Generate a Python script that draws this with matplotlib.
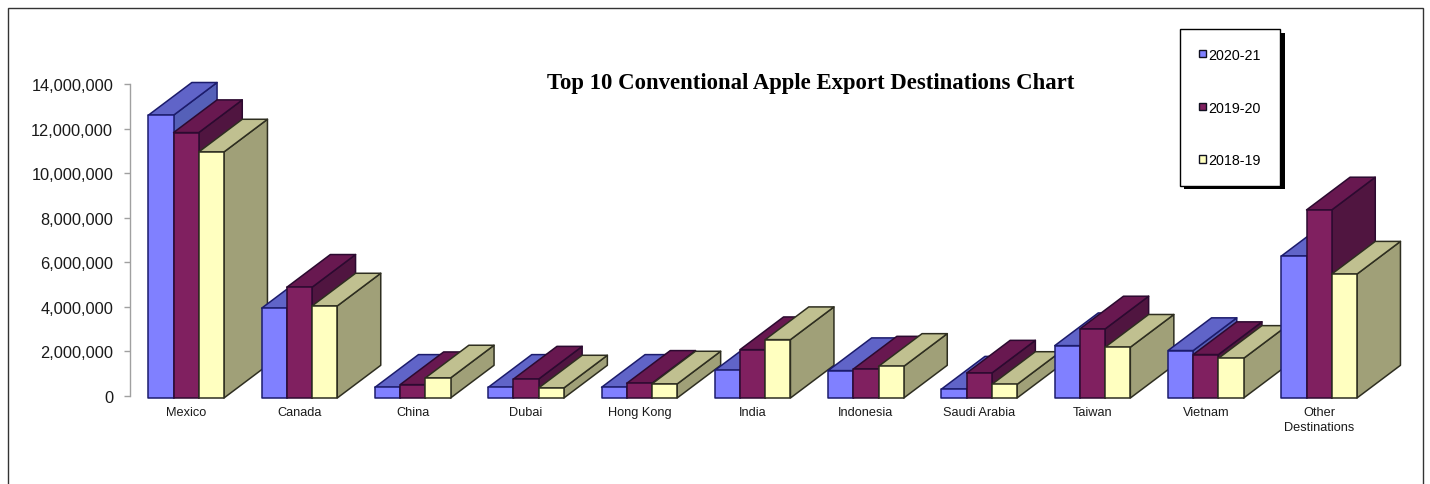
import matplotlib
matplotlib.use("Agg")
import matplotlib.pyplot as plt
from matplotlib.patches import Patch, Polygon, Rectangle
from matplotlib.ticker import FuncFormatter
from matplotlib.transforms import ScaledTranslation

# Values, in millions
categories = ["Mexico", "Canada", "China", "Dubai", "Hong Kong", "India", "Indonesia",
              "Saudi Arabia", "Taiwan", "Vietnam", "Other\nDestinations"]
y2020 = [12.69, 4.03, 0.48, 0.48, 0.48, 1.24, 1.23, 0.40, 2.35, 2.13, 6.37]
y2019 = [11.91, 4.97, 0.60, 0.85, 0.66, 2.17, 1.30, 1.12, 3.10, 1.95, 8.44]
y2018 = [11.04, 4.13, 0.90, 0.45, 0.63, 2.62, 1.42, 0.61, 2.28, 1.78, 5.56]
series_names = ["2020-21", "2019-20", "2018-19"]
yticks = [0, 2000000, 4000000, 6000000, 8000000, 10000000, 12000000, 14000000]

W, H = 1430, 485
DPI = 100
plt.rcParams["font.family"] = "Liberation Sans"

fig = plt.figure(figsize=(W / DPI, H / DPI), dpi=DPI)

# axes in pixel terms: y axis at x=129.5, zero tick at y=397, 14M tick at y=85
left, right, top, bottom = 129.5, 129.5 + 11 * 113.3, 85, 397
ax = fig.add_axes([left / W, 1 - bottom / H, (right - left) / W, (bottom - top) / H])
ax.set_xlim(-0.5, 10.5)
ax.set_ylim(0, 14000000)
ax.patch.set_visible(False)

for s in ["top", "right", "bottom"]:
    ax.spines[s].set_visible(False)
ax.spines["left"].set_color("#a0a0a0")
ax.spines["left"].set_linewidth(1.0)

ax.set_yticks(yticks)
ax.yaxis.set_major_formatter(FuncFormatter(lambda v, p: f"{int(v):,}"))
ax.tick_params(axis="y", length=4, width=1, color="#a0a0a0", labelsize=11.8, pad=7.7, labelcolor="#1a1a1a")
ax.set_xticks(range(len(categories)))
ax.set_xticklabels(categories, fontsize=9.2, color="#1a1a1a", linespacing=1.3)
ax.tick_params(axis="x", length=0, pad=7.2)

# front plane sits 2 px below the axis ticks
shift = ax.transData + ScaledTranslation(0, -2 / DPI, fig.dpi_scale_trans)

bar_w = 25.2 / 113.3
depth_x = 43.5 / 113.3
depth_y = 32.7 / 22.29 * 1e6

styles = [
    dict(front="#8080FF", top="#6064C8", side="#5560B8", edge="#1C1C6C"),
    dict(front="#802060", top="#681850", side="#501540", edge="#2C0A30"),
    dict(front="#FFFFC0", top="#C0C090", side="#A0A078", edge="#2E2E20"),
]


def draw_bar(x0, value, st, z):
    x1 = x0 + bar_w
    h = value * 1e6
    kw = dict(edgecolor=st["edge"], linewidth=1.1, transform=shift, clip_on=False,
              joinstyle="round", zorder=z)
    ax.add_patch(Polygon([(x1, 0), (x1 + depth_x, depth_y), (x1 + depth_x, h + depth_y), (x1, h)],
                         facecolor=st["side"], **kw))
    ax.add_patch(Polygon([(x0, h), (x1, h), (x1 + depth_x, h + depth_y), (x0 + depth_x, h + depth_y)],
                         facecolor=st["top"], **kw))
    ax.bar(x0, h, width=bar_w, align="edge", facecolor=st["front"], **kw)


z = 3
for i in range(len(categories)):
    for j, vals in enumerate([y2020, y2019, y2018]):
        draw_bar(i - 1.5 * bar_w + j * bar_w, vals[i], styles[j], z)
        z += 1

# title, same Times look as the source
fig.text(811 / W, 1 - 83 / H, "Top 10 Conventional Apple Export Destinations Chart",
         family="Liberation Serif", fontweight="bold", fontsize=16.4, ha="center", va="center", color="black")

handles = [Patch(facecolor=s["front"], edgecolor="#101020", linewidth=1) for s in styles]
leg = ax.legend(handles, series_names, loc="upper left", bbox_to_anchor=(1180 / W, 1 - 30 / H),
                bbox_transform=fig.transFigure, fontsize=10.3, handlelength=0.55, handleheight=0.45,
                handletextpad=0.15, labelspacing=2.72, borderpad=1.3, borderaxespad=0,
                fancybox=False, framealpha=1, edgecolor="black")
leg.get_frame().set_linewidth(1.0)
leg.set_zorder(100)

# drop shadow behind the legend box
ax.add_patch(Rectangle((1184 / W, 1 - 190 / H), 101 / W, 156 / H, transform=fig.transFigure,
                       facecolor="black", edgecolor="none", clip_on=False, zorder=99))

# outer frame runs off the bottom of the image
fig.add_artist(Rectangle((7.5 / W, -0.1), (1423 - 7.5) / W, 1.1 - 9 / H, transform=fig.transFigure,
                         fill=False, edgecolor="#333333", linewidth=1.0))

fig.savefig("out.png", dpi=DPI)
